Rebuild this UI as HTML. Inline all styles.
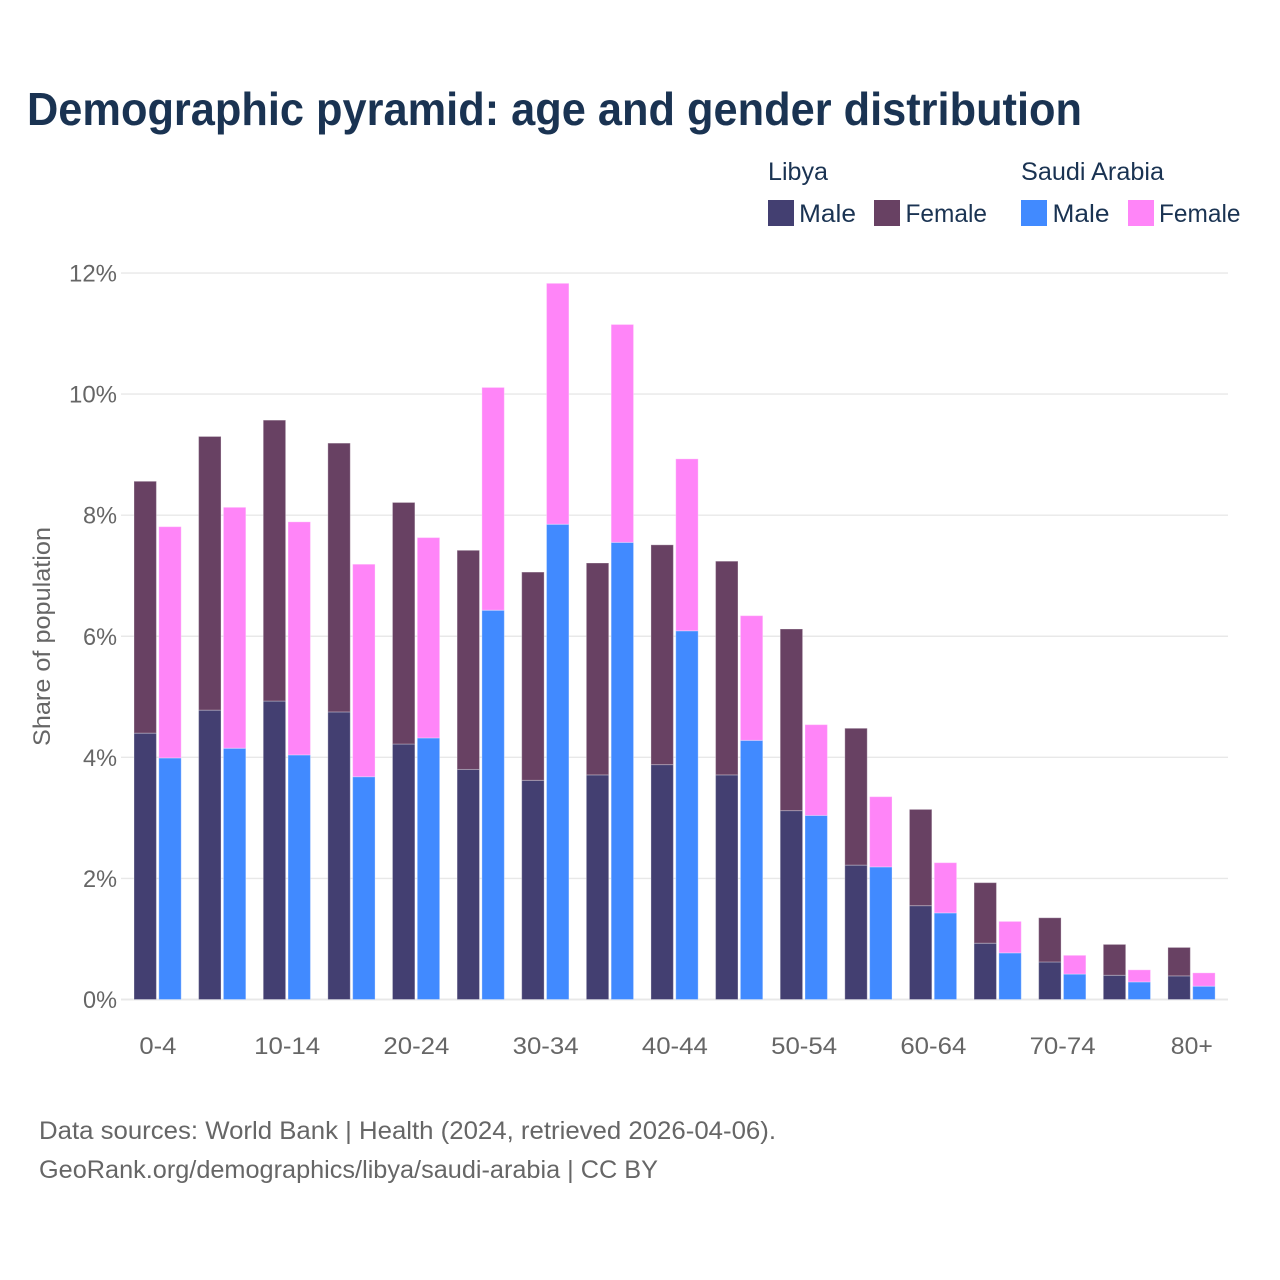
<!DOCTYPE html>
<html lang="en">
<head>
<meta charset="utf-8">
<title>Demographic pyramid: age and gender distribution</title>
<style>
html,body{margin:0;padding:0;background:#fff}
svg{display:block}
text{font-family:"Liberation Sans",sans-serif}
</style>
</head>
<body>
<svg id="chart" xmlns="http://www.w3.org/2000/svg" width="1280" height="1280" viewBox="0 0 1280 1280">
  <rect width="1280" height="1280" fill="#fff"/>
  <text x="27" y="125" font-size="46" font-weight="700" fill="#1a3352" textLength="1055" lengthAdjust="spacingAndGlyphs">Demographic pyramid: age and gender distribution</text>

  <g font-size="25" fill="#1a3352">
    <text x="768" y="180" textLength="60" lengthAdjust="spacingAndGlyphs">Libya</text>
    <text x="1021" y="180" textLength="143" lengthAdjust="spacingAndGlyphs">Saudi Arabia</text>
    <rect x="768" y="200" width="26" height="26" fill="#433f71"/>
    <text x="799" y="222" textLength="57" lengthAdjust="spacingAndGlyphs">Male</text>
    <rect x="874" y="200" width="26" height="26" fill="#684163"/>
    <text x="905.500" y="222" textLength="81.500" lengthAdjust="spacingAndGlyphs">Female</text>
    <rect x="1021" y="200" width="26" height="26" fill="#418aff"/>
    <text x="1052.500" y="222" textLength="57" lengthAdjust="spacingAndGlyphs">Male</text>
    <rect x="1128" y="200" width="26" height="26" fill="#ff85f8"/>
    <text x="1159" y="222" textLength="81.500" lengthAdjust="spacingAndGlyphs">Female</text>
  </g>

  <g id="grid"></g>
  <g id="bars"></g>
  <g id="yticks"></g>
  <g id="xticks"></g>

  <text transform="translate(50,746) rotate(-90)" font-size="24" fill="#666" textLength="219" lengthAdjust="spacingAndGlyphs">Share of population</text>

  <text x="39" y="1139" font-size="25" fill="#666" textLength="737" lengthAdjust="spacingAndGlyphs">Data sources: World Bank | Health (2024, retrieved 2026-04-06).</text>
  <text x="39" y="1178" font-size="25" fill="#666" textLength="619" lengthAdjust="spacingAndGlyphs">GeoRank.org/demographics/libya/saudi-arabia | CC BY</text>
</svg>
<script>
const categories = ["0-4","5-9","10-14","15-19","20-24","25-29","30-34","35-39","40-44","45-49","50-54","55-59","60-64","65-69","70-74","75-79","80+"];
const libyaMale = [4.40,4.78,4.93,4.75,4.22,3.80,3.62,3.71,3.88,3.71,3.12,2.22,1.55,0.93,0.62,0.40,0.39];
const libyaFemale = [4.16,4.52,4.64,4.44,3.99,3.62,3.44,3.50,3.63,3.53,3.00,2.26,1.59,1.00,0.73,0.51,0.47];
const saudiMale = [3.99,4.15,4.04,3.68,4.32,6.43,7.85,7.55,6.09,4.28,3.04,2.19,1.43,0.77,0.42,0.29,0.22];
const saudiFemale = [3.82,3.98,3.85,3.51,3.31,3.68,3.98,3.60,2.84,2.06,1.50,1.16,0.83,0.52,0.31,0.20,0.22];
const yTickValues = [0,2,4,6,8,10,12];
const yTickLabels = ["0%","2%","4%","6%","8%","10%","12%"];

const NS = "http://www.w3.org/2000/svg";
const yZero = 999.5, pxPerUnit = 60.54;
const firstCenter = 157.6, step = 64.62, barW = 22.4, barGap = 2.4;
const gridLeft = 121, gridRight = 1228;
function yScale(v){ return yZero - v * pxPerUnit; }
function xScale(i){ return firstCenter + i * step; }

function segment(parent, x, base, val, fill){
  const r = document.createElementNS(NS, "rect");
  r.setAttribute("x", x);
  r.setAttribute("y", yScale(base + val));
  r.setAttribute("width", barW);
  r.setAttribute("height", yScale(base) - yScale(base + val));
  r.setAttribute("fill", fill);
  r.setAttribute("stroke", "#fff");
  r.setAttribute("stroke-opacity", "0.3");
  r.setAttribute("stroke-width", "1");
  parent.appendChild(r);
  return r;
}

const grid = document.getElementById("grid");
const yticks = document.getElementById("yticks");
yTickValues.forEach(function(v, i){
  const l = document.createElementNS(NS, "line");
  
  
  l.setAttribute("x1", gridLeft);
  l.setAttribute("x2", gridRight);
  l.setAttribute("y1", yScale(v));
  l.setAttribute("y2", yScale(v));
  l.setAttribute("stroke", "#e8e8e8");
  l.setAttribute("stroke-width", v === 0 ? "2" : "1.4");
  grid.appendChild(l);
  const t = document.createElementNS(NS, "text");
  
  
  t.setAttribute("x", 117);
  t.setAttribute("y", yScale(v) + 8.5);
  t.setAttribute("text-anchor", "end");
  t.setAttribute("font-size", "24");
  t.setAttribute("fill", "#666");
  t.setAttribute("textLength", yTickLabels[i].length === 3 ? 48 : 34);
  t.setAttribute("lengthAdjust", "spacingAndGlyphs");
  t.textContent = yTickLabels[i];
  yticks.appendChild(t);
});

const bars = document.getElementById("bars");
const xticks = document.getElementById("xticks");
categories.forEach(function(c, i){
  const cx = xScale(i);
  const lx = cx - barGap / 2 - barW;
  const sx = cx + barGap / 2;

  const lm = segment(bars, lx, 0, libyaMale[i], "#433f71");
  
  
  const lf = segment(bars, lx, libyaMale[i], libyaFemale[i], "#684163");
  
  
  const sm = segment(bars, sx, 0, saudiMale[i], "#418aff");
  
  
  const sf = segment(bars, sx, saudiMale[i], saudiFemale[i], "#ff85f8");
  
  

  if (i % 2 === 0) {
    const t = document.createElementNS(NS, "text");
    
    
    t.setAttribute("x", cx + 0.3);
    t.setAttribute("y", 1054);
    t.setAttribute("text-anchor", "middle");
    t.setAttribute("font-size", "24");
    t.setAttribute("fill", "#666");
    t.setAttribute("textLength", c.length === 5 ? 66 : (c === "80+" ? 42 : 37));
    t.setAttribute("lengthAdjust", "spacingAndGlyphs");
    t.textContent = c;
    xticks.appendChild(t);
  }
});
</script>
</body>
</html>
